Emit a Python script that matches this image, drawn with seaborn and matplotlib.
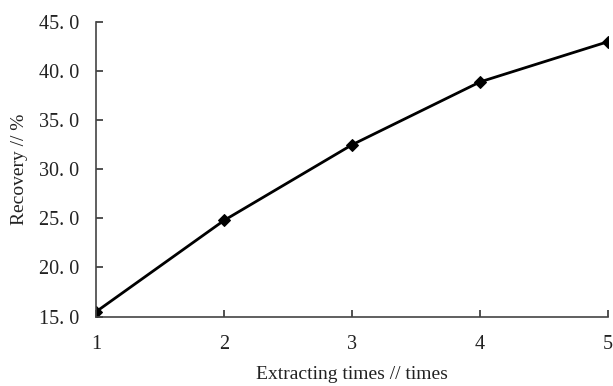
import matplotlib
matplotlib.use("Agg")
import matplotlib.pyplot as plt
import seaborn as sns
import pandas as pd
from matplotlib.ticker import FuncFormatter

times = [1, 2, 3, 4, 5]
recovery = [15.5, 24.8, 32.5, 38.9, 43.0]
x_ticks = [1, 2, 3, 4, 5]
y_ticks = [15, 20, 25, 30, 35, 40, 45]

sns.set_style("ticks")
plt.rcParams['font.family'] = ['Liberation Serif', 'DejaVu Serif']

df = pd.DataFrame({"times": times, "recovery": recovery})

fig = plt.figure(figsize=(6.13, 3.86), dpi=100)
ax = fig.add_axes([0.157, 0.18, 0.835, 0.763])
sns.lineplot(data=df, x="times", y="recovery", ax=ax, color="black",
             linewidth=2, marker="D", markersize=6, markeredgecolor="black")

ax.set_xlim(1, 5)
ax.set_ylim(15, 45)
ax.set_xticks(x_ticks)
ax.set_yticks(y_ticks)
ax.yaxis.set_major_formatter(FuncFormatter(lambda v, p: f"{v:.1f}".replace(".", ". ")))
ax.tick_params(direction="in", length=5, width=1.2, colors="#333333",
               labelcolor="#222222", labelsize=14.5)
ax.tick_params(axis="x", pad=13)
ax.tick_params(axis="y", pad=12)
for s in ["top", "right"]:
    ax.spines[s].set_visible(False)
for s in ["left", "bottom"]:
    ax.spines[s].set_color("#444444")
    ax.spines[s].set_linewidth(1.2)
ax.set_xlabel("Extracting times // times", fontsize=14, color="#222222", labelpad=9)
ax.set_ylabel("Recovery // %", fontsize=14, color="#222222", labelpad=8)

fig.savefig("out.png", dpi=100)
